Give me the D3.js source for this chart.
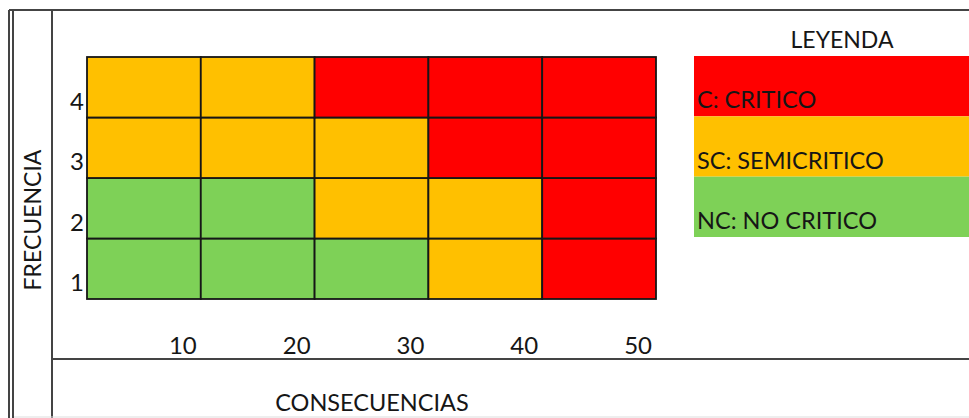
<!DOCTYPE html>
<html>
<head>
<meta charset="utf-8">
<script src="https://cdn.jsdelivr.net/npm/d3@7"></script>
<style>
  body { margin: 0; background: #fff; }
  text { font-family: Lato, "Open Sans", sans-serif; fill: #161616; }
</style>
</head>
<body>
<div id="chart"></div>
<script>
// matrix data
const consecuencias = [10, 20, 30, 40, 50];
const frecuencias = [1, 2, 3, 4];
// level per row (frecuencia 1..4), per column (consecuencia 10..50)
const niveles = [
  ["NC", "NC", "NC", "SC", "C"],
  ["NC", "NC", "SC", "SC", "C"],
  ["SC", "SC", "SC", "C", "C"],
  ["SC", "SC", "C", "C", "C"]
];
const leyendaKeys = ["C", "SC", "NC"];
const leyendaLabels = ["C: CRITICO", "SC: SEMICRITICO", "NC: NO CRITICO"];
const colores = { "C": "#FF0000", "SC": "#FFC000", "NC": "#7ED157" };

var width = 969;
var height = 418;

var svg = d3.select("#chart").append("svg")
  .attr("width", width)
  .attr("height", height);

// frame lines
var frame = svg.append("g").attr("stroke", "#444").attr("stroke-width", 2);
frame.append("line").attr("x1", 9).attr("x2", width).attr("y1", 10).attr("y2", 10);
frame.append("line").attr("x1", 9).attr("x2", 9).attr("y1", 10).attr("y2", height);
frame.append("line").attr("x1", 13).attr("x2", 13).attr("y1", 10).attr("y2", height);
frame.append("line").attr("x1", 52).attr("x2", 52).attr("y1", 10).attr("y2", height);
frame.append("line").attr("x1", 52).attr("x2", width).attr("y1", 359).attr("y2", 359);
svg.append("line").attr("x1", 14).attr("x2", width).attr("y1", 417).attr("y2", 417)
  .attr("stroke", "#ddd").attr("stroke-width", 1);

// scales
var x = d3.scaleBand().domain(consecuencias).range([87, 656]);
var y = d3.scaleBand().domain(frecuencias).range([299, 57]);

// cells
var cells = [];
frecuencias.forEach((f, i) => {
  consecuencias.forEach((c, j) => {
    cells.push({ f: f, c: c, nivel: niveles[i][j] });
  });
});

svg.append("g").selectAll("rect")
  .data(cells)
  .enter()
  .append("rect")
  .attr("x", d => x(d.c))
  .attr("y", d => y(d.f))
  .attr("width", x.bandwidth())
  .attr("height", y.bandwidth())
  .attr("fill", d => colores[d.nivel])
  .attr("stroke", "#161616")
  .attr("stroke-width", 1.8);

// y labels
svg.append("g").selectAll("text")
  .data(frecuencias)
  .enter()
  .append("text")
  .attr("x", 84)
  .attr("y", d => y(d) + y.bandwidth() - 8)
  .attr("text-anchor", "end")
  .style("font-size", "24px")
  .text(d => d);

// x labels
svg.append("g").selectAll("text")
  .data(consecuencias)
  .enter()
  .append("text")
  .attr("x", d => x(d) + x.bandwidth() - 4)
  .attr("y", 354)
  .attr("text-anchor", "end")
  .style("font-size", "24px")
  .text(d => d);

// axis titles
svg.append("text")
  .attr("x", 372)
  .attr("y", 411)
  .attr("text-anchor", "middle")
  .style("font-size", "23.5px")
  .text("CONSECUENCIAS");

svg.append("text")
  .attr("transform", "translate(41,220) rotate(-90)")
  .attr("text-anchor", "middle")
  .style("font-size", "23px")
  .text("FRECUENCIA");

// legend
var ly = d3.scaleBand().domain(leyendaKeys).range([56, 237]);
svg.append("text")
  .attr("x", 842)
  .attr("y", 48)
  .attr("text-anchor", "middle")
  .style("font-size", "23px")
  .text("LEYENDA");

var leg = svg.append("g");
leg.selectAll("rect")
  .data(leyendaKeys)
  .enter()
  .append("rect")
  .attr("x", 694)
  .attr("y", d => ly(d))
  .attr("width", width - 694)
  .attr("height", ly.bandwidth())
  .attr("fill", d => colores[d]);

leg.selectAll("text")
  .data(leyendaKeys)
  .enter()
  .append("text")
  .attr("x", 697)
  .attr("y", d => ly(d) + ly.bandwidth() - 8)
  .style("font-size", "23.5px")
  .text((d, i) => leyendaLabels[i]);
</script>
</body>
</html>
